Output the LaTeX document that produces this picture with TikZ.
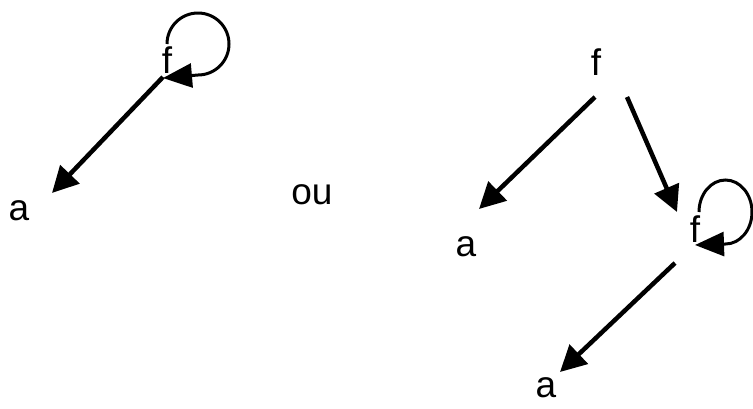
\documentclass[tikz,border=0pt]{standalone}
\usepackage{fontspec}
\setmainfont{Liberation Sans}
\usetikzlibrary{arrows.meta,positioning}

\begin{document}
\begin{tikzpicture}[x=1pt,y=1pt,
  lbl/.style={font=\fontsize{37pt}{40pt}\selectfont,inner sep=0pt},
  edge/.style={line width=4.5pt,-{Triangle[length=26pt,width=26pt]}},
  selfloop/.style={line width=3pt,-{Triangle[length=29pt,width=24pt]}}]
\useasboundingbox (0,0) rectangle (753,-408);

% first term: f looping on itself
\node[lbl] (f1) at (167,-60) {f};
\node[lbl] (a1) at (19,-211) {a};
\draw[edge] ([shift={(-4,-17)}]f1.center) -- ([shift={(33,18)}]a1.center);
\draw[selfloop] ([shift={(0,16)}]f1.center) arc[start angle=180,end angle=-90,radius=31] -- ([shift={(-4,-18)}]f1.center);

\node[lbl] (ou) at (312,-195) {ou};

% second term: unfolded once
\node[lbl] (f2) at (596,-62) {f};
\node[lbl] (a2) at (466,-247) {a};
\node[lbl] (f3) at (695,-229) {f};
\node[lbl] (a3) at (546,-388) {a};
\draw[edge] ([shift={(-1,-35)}]f2.center) -- ([shift={(13,38)}]a2.center);
\draw[edge] ([shift={(31,-35)}]f2.center) -- ([shift={(-18,17)}]f3.center);
\draw[edge] ([shift={(-20,-34)}]f3.center) -- ([shift={(14,16)}]a3.center);
\draw[selfloop] ([shift={(4,17)}]f3.center) arc[start angle=180,end angle=-90,x radius=26.5,y radius=32] -- ([shift={(0,-16)}]f3.center);
\end{tikzpicture}
\end{document}
